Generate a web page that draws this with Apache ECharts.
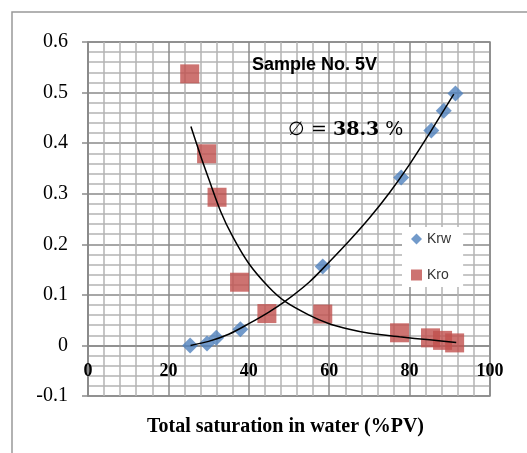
<!DOCTYPE html>
<html>
<head>
<meta charset="utf-8">
<script src="https://cdn.jsdelivr.net/npm/echarts@6/dist/echarts.min.js"></script>
<style>
html,body{margin:0;padding:0;background:#fff;}
#c{width:527px;height:453px;}
</style>
</head>
<body>
<div id="c"></div>
<script>
// Measured data
var krwX = [25.4, 29.6, 31.9, 37.9, 58.4, 77.9, 85.4, 88.5, 91.4];
var krwY = [0.000, 0.004, 0.015, 0.032, 0.156, 0.332, 0.425, 0.464, 0.498];
var kroX = [25.3, 29.5, 32.1, 37.7, 44.5, 58.4, 77.5, 85.2, 88.2, 91.2];
var kroY = [0.537, 0.379, 0.293, 0.125, 0.063, 0.062, 0.025, 0.015, 0.010, 0.005];
// Trend curves
var krwTrendX = [25.5, 30, 35, 40, 45, 49, 55, 60, 65, 70, 75, 80, 85, 91];
var krwTrendY = [0.000, 0.008, 0.022, 0.043, 0.066, 0.087, 0.125, 0.165, 0.207, 0.252, 0.302, 0.358, 0.420, 0.497];
var kroTrendX = [25.6, 28, 30, 33, 36, 40, 45, 49, 55, 60, 65, 70, 77.5, 85, 91.6];
var kroTrendY = [0.433, 0.375, 0.330, 0.265, 0.215, 0.162, 0.115, 0.087, 0.060, 0.043, 0.032, 0.024, 0.017, 0.011, 0.006];
var seriesNames = ['Krw', 'Kro'];
var chartTitle = 'Sample No. 5V';
var xTitle = 'Total saturation in water (%PV)';

function pairs(xs, ys){ return xs.map(function(x,i){ return [x, ys[i]]; }); }

var chart = echarts.init(document.getElementById('c'));
var major = '#8a8a8a', minor = '#b4b4b4';
var gridTop = 42, gridBottom = 57, H = 453;
var yMin = -0.1, yMax = 0.6;
// distance from grid bottom up to the y=0 line
var zeroOffset = (H - gridTop - gridBottom) * (0 - yMin) / (yMax - yMin);
chart.setOption({
  animation: false,
  backgroundColor: '#fff',
  title: {
    text: chartTitle, left: 252, top: 56, padding: 0,
    textStyle: {fontFamily: 'Liberation Sans', fontWeight: 'bold', fontSize: 18, color: '#000'}
  },
  grid: {left: 88, right: 37, top: gridTop, bottom: gridBottom, show: true, borderColor: major, borderWidth: 1.5},
  legend: {
    orient: 'vertical', left: 402, top: 227,
    backgroundColor: '#fff', padding: [5, 12, 5, 9],
    itemWidth: 11, itemHeight: 11, itemGap: 22,
    textStyle: {fontFamily: 'Liberation Sans', fontSize: 14, color: '#333', lineHeight: 14},
    data: [{name: seriesNames[0], icon: 'diamond'}, {name: seriesNames[1], icon: 'rect'}]
  },
  xAxis: {
    type: 'value', min: 0, max: 100, interval: 20,
    offset: -zeroOffset,
    axisLine: {onZero: false, lineStyle: {color: major, width: 1.5}},
    axisTick: {show: false},
    axisLabel: {margin: 17, fontFamily: 'Liberation Serif', fontWeight: 'bold', fontSize: 18, color: '#000'},
    splitLine: {show: true, lineStyle: {color: major, width: 1.5}},
    minorTick: {show: false, splitNumber: 5},
    minorSplitLine: {show: true, lineStyle: {color: minor, width: 1.5}}
  },
  yAxis: {
    type: 'value', min: yMin, max: yMax, interval: 0.1,
    axisLine: {show: true, lineStyle: {color: major, width: 1.5}},
    axisTick: {show: true, length: 6, lineStyle: {color: major, width: 1.5}},
    axisLabel: {margin: 20, fontFamily: 'Liberation Serif', fontSize: 20, color: '#000'},
    splitLine: {show: true, lineStyle: {color: major, width: 1.5}},
    minorTick: {show: false, splitNumber: 5},
    minorSplitLine: {show: true, lineStyle: {color: minor, width: 1.5}}
  },
  series: [
    {name: seriesNames[0], type: 'scatter', symbol: 'diamond', symbolSize: 16,
     itemStyle: {color: '#4f81bd'}, data: pairs(krwX, krwY), z: 3},
    {name: seriesNames[1], type: 'scatter', symbol: 'rect', symbolSize: 19,
     itemStyle: {color: '#c0504d'}, data: pairs(kroX, kroY), z: 3},
    {name: 'krwTrend', type: 'line', smooth: 0.3, symbol: 'none', z: 5,
     lineStyle: {color: '#000', width: 1.5}, data: pairs(krwTrendX, krwTrendY)},
    {name: 'kroTrend', type: 'line', smooth: 0.3, symbol: 'none', z: 5,
     lineStyle: {color: '#000', width: 1.5}, data: pairs(kroTrendX, kroTrendY)}
  ],
  graphic: [
    {type: 'rect', silent: true, z: -1,
     shape: {x: 12, y: 12, width: 600, height: 600},
     style: {fill: null, stroke: '#999', lineWidth: 1.5}},
    {type: 'text', z: 10, x: 288, y: 130,
     style: {
       text: '{n|\u2205 = }{b|38.3}{n| %}',
       textVerticalAlign: 'middle', verticalAlign: 'middle',
       rich: {
         n: {fontFamily: 'DejaVu Serif', fontSize: 19, fill: '#000', color: '#000'},
         b: {fontFamily: 'DejaVu Serif', fontWeight: 'bold', fontSize: 19, fill: '#000', color: '#000'}
       }
     }},
    {type: 'text', z: 10, x: 285.5, y: 427,
     style: {
       text: xTitle, textAlign: 'center', align: 'center',
       textVerticalAlign: 'middle', verticalAlign: 'middle',
       font: 'bold 20px "Liberation Serif"', fill: '#000'
     }}
  ]
});
</script>
</body>
</html>
